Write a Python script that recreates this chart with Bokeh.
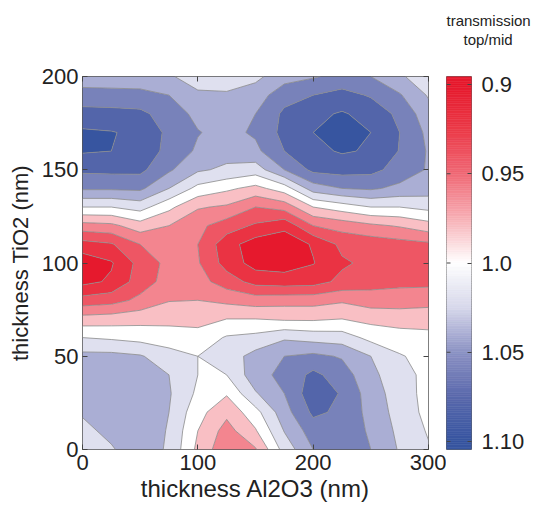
import numpy as np
from bokeh.plotting import figure
from bokeh.layouts import row
from bokeh.models import FixedTicker, Range1d, Title, CustomJSTickFormatter, LinearAxis
from bokeh.embed import file_html
from bokeh.resources import INLINE

# ---------------- data ----------------
thickness_al2o3 = [0, 25, 50, 75, 100, 125, 150, 175, 200, 225, 250, 275, 300]
thickness_tio2 = [0, 10, 20, 30, 40, 50, 60, 70, 80, 90, 100,
                  110, 120, 130, 140, 150, 160, 170, 180, 190, 200]

# transmission top/mid along TiO2 thickness (0..200 nm), one list per Al2O3 thickness
al_000 = [1.020, 1.025, 1.032, 1.040, 1.044, 1.036, 1.010, 0.978, 0.938, 0.904, 0.897,
          0.922, 0.962, 1.010, 1.053, 1.074, 1.092, 1.093, 1.078, 1.057, 1.040]
al_025 = [1.028, 1.035, 1.042, 1.045, 1.045, 1.036, 1.007, 0.980, 0.942, 0.913, 0.908,
          0.928, 0.965, 1.010, 1.053, 1.075, 1.090, 1.091, 1.077, 1.056, 1.040]
al_050 = [1.042, 1.045, 1.045, 1.045, 1.040, 1.032, 1.003, 0.983, 0.955, 0.940, 0.937,
          0.950, 0.981, 1.018, 1.054, 1.075, 1.085, 1.086, 1.075, 1.055, 1.040]
al_075 = [1.027, 1.028, 1.030, 1.032, 1.030, 1.018, 1.000, 0.984, 0.969, 0.958, 0.956,
          0.958, 0.970, 0.995, 1.030, 1.053, 1.063, 1.065, 1.060, 1.050, 1.032]
al_100 = [0.985, 0.990, 0.997, 1.006, 1.010, 1.010, 0.998, 0.983, 0.970, 0.958, 0.952,
          0.950, 0.955, 0.972, 1.004, 1.033, 1.047, 1.051, 1.045, 1.033, 1.022]
al_125 = [0.955, 0.962, 0.975, 0.992, 1.010, 1.020, 1.012, 0.990, 0.965, 0.940, 0.922,
          0.918, 0.940, 0.967, 0.994, 1.026, 1.038, 1.044, 1.040, 1.032, 1.022]
al_150 = [0.968, 0.988, 1.003, 1.028, 1.042, 1.037, 1.016, 0.990, 0.960, 0.923, 0.902,
          0.900, 0.927, 0.950, 0.984, 1.020, 1.045, 1.053, 1.050, 1.040, 1.025]
al_175 = [1.018, 1.031, 1.042, 1.050, 1.056, 1.050, 1.027, 0.987, 0.962, 0.920, 0.900,
          0.898, 0.915, 0.958, 1.000, 1.050, 1.070, 1.076, 1.074, 1.062, 1.042]
al_200 = [1.050, 1.060, 1.074, 1.083, 1.075, 1.055, 1.022, 0.987, 0.962, 0.922, 0.909,
          0.912, 0.950, 0.990, 1.040, 1.075, 1.085, 1.090, 1.085, 1.070, 1.048]
al_225 = [1.060, 1.063, 1.066, 1.068, 1.060, 1.048, 1.020, 0.990, 0.967, 0.935, 0.927,
          0.935, 0.958, 1.000, 1.050, 1.078, 1.092, 1.097, 1.092, 1.077, 1.056]
al_250 = [1.050, 1.047, 1.043, 1.040, 1.035, 1.030, 1.004, 0.984, 0.960, 0.942, 0.935,
          0.938, 0.966, 1.010, 1.053, 1.076, 1.088, 1.090, 1.083, 1.068, 1.050]
al_275 = [1.028, 1.025, 1.022, 1.020, 1.018, 1.012, 0.998, 0.982, 0.960, 0.945, 0.938,
          0.942, 0.972, 1.010, 1.045, 1.062, 1.069, 1.070, 1.065, 1.052, 1.033]
al_300 = [1.012, 1.008, 1.004, 1.003, 1.004, 1.002, 0.995, 0.983, 0.962, 0.945, 0.937,
          0.946, 0.982, 1.016, 1.040, 1.048, 1.048, 1.045, 1.038, 1.028, 1.018]

contour_levels = [0.89, 0.91, 0.93, 0.95, 0.97, 0.99, 1.01, 1.03, 1.05, 1.07, 1.09, 1.11]
colorbar_ticks = [0.9, 0.95, 1.0, 1.05, 1.1]
colorbar_labels = ["0.9", "0.95", "1.0", "1.05", "1.10"]
colorbar_title = ["transmission", "top/mid"]
x_ticks = [0, 100, 200, 300]
y_ticks = [0, 50, 100, 150, 200]

# ---------------- colour map (style) ----------------
cmap_v = [0.90, 0.925, 0.95, 0.975, 1.00, 1.025, 1.05, 1.075, 1.10]
cmap_rgb = [(230, 25, 45), (235, 58, 72), (240, 105, 118), (247, 175, 181),
            (255, 255, 255), (215, 216, 235), (140, 146, 196), (90, 105, 172), (55, 85, 160)]


def color_at(v):
    r = np.interp(v, cmap_v, [c[0] for c in cmap_rgb])
    g = np.interp(v, cmap_v, [c[1] for c in cmap_rgb])
    b = np.interp(v, cmap_v, [c[2] for c in cmap_rgb])
    return "#%02x%02x%02x" % (int(round(r)), int(round(g)), int(round(b)))


band_colors = [color_at(0.5 * (a + b)) for a, b in zip(contour_levels[:-1], contour_levels[1:])]

columns = [al_000, al_025, al_050, al_075, al_100, al_125, al_150,
           al_175, al_200, al_225, al_250, al_275, al_300]
z = np.array(columns, dtype=float).T  # shape (len(tio2), len(al2o3))

FONT = "Liberation Sans"
TXT = "#222222"
BLANK = "return ''"

# ---------------- main contour figure ----------------
p = figure(frame_width=346, frame_height=373, title=None,
           x_range=Range1d(0, 300), y_range=Range1d(0, 200),
           output_backend="svg", toolbar_location=None,
           min_border_left=82, min_border_top=76, min_border_bottom=57, min_border_right=18)

p.contour(x=thickness_al2o3, y=thickness_tio2, z=z, levels=contour_levels,
          fill_color=band_colors, line_color="#8a8a8a", line_width=0.8)

p.grid.visible = False
p.outline_line_color = "#555555"
p.outline_line_width = 1

# box ticks on the top and right edges (no labels)
p.add_layout(LinearAxis(ticker=FixedTicker(ticks=x_ticks),
                        formatter=CustomJSTickFormatter(code=BLANK)), "above")
p.add_layout(LinearAxis(ticker=FixedTicker(ticks=y_ticks),
                        formatter=CustomJSTickFormatter(code=BLANK)), "right")

for ax in p.xaxis + p.yaxis:
    ax.axis_line_color = None
    ax.major_tick_in = 5
    ax.major_tick_out = 0
    ax.minor_tick_line_color = None
    ax.major_tick_line_color = "#444444"
    ax.major_label_text_font = FONT
    ax.major_label_text_font_size = "22px"
    ax.major_label_text_color = TXT
    ax.axis_label_text_font = FONT
    ax.axis_label_text_font_style = "normal"
    ax.axis_label_text_color = TXT

xa, ya = p.below[0], p.left[0]
xa.ticker = FixedTicker(ticks=x_ticks)
ya.ticker = FixedTicker(ticks=y_ticks)
xa.axis_label = "thickness Al2O3 (nm)"
ya.axis_label = "thickness TiO2 (nm)"
xa.axis_label_text_font_size = "24px"
ya.axis_label_text_font_size = "22px"
xa.major_label_standoff = 5
ya.major_label_standoff = 4
xa.axis_label_standoff = 2
ya.axis_label_standoff = 6

# ---------------- colour bar figure (0.9 red at top, 1.10 blue at bottom) ----------------
v_top, v_bottom = 0.8955, 1.1045
cb = figure(frame_width=25, frame_height=373, title=None,
            x_range=Range1d(0, 1), y_range=Range1d(v_bottom, v_top),
            output_backend="svg", toolbar_location=None,
            x_axis_location=None, y_axis_location="right",
            min_border_left=0, min_border_top=76, min_border_bottom=57, min_border_right=66)
n_steps = 210
edges = np.linspace(v_top, v_bottom, n_steps + 1)
step_cols = [color_at(0.5 * (a + b)) for a, b in zip(edges[:-1], edges[1:])]
cb.quad(left=0, right=1, bottom=edges[:-1], top=edges[1:],
        fill_color=step_cols, line_color=step_cols, line_width=0.6)
cb.segment(x0=0, x1=0.16, y0=colorbar_ticks, y1=colorbar_ticks, line_color="#444444", line_width=1)
cb.grid.visible = False
cb.outline_line_color = "#666666"

lab_map = ",".join("'%d':'%s'" % (int(round(v * 100)), s) for v, s in zip(colorbar_ticks, colorbar_labels))
cbax = cb.yaxis[0]
cbax.ticker = FixedTicker(ticks=colorbar_ticks)
cbax.formatter = CustomJSTickFormatter(
    code="const m = {%s}; const k = String(Math.round(tick*100)); return (k in m) ? m[k] : tick.toFixed(2);" % lab_map)
cbax.axis_line_color = None
cbax.major_tick_in = 4
cbax.major_tick_out = 0
cbax.minor_tick_line_color = None
cbax.major_tick_line_color = "#444444"
cbax.major_label_standoff = 10
cbax.major_label_text_font = FONT
cbax.major_label_text_font_size = "22px"
cbax.major_label_text_color = TXT

# titles stack outward from the bar: an empty spacer line, then "top/mid", then "transmission"
cb.add_layout(Title(text=" ", align="left", standoff=10,
                    text_font=FONT, text_font_size="15px", text_font_style="normal"), "above")
cb.add_layout(Title(text=colorbar_title[1], align="left", offset=17, standoff=0,
                    text_font=FONT, text_font_size="15px", text_font_style="normal",
                    text_color=TXT), "above")
cb.add_layout(Title(text=colorbar_title[0], align="left", offset=0, standoff=0,
                    text_font=FONT, text_font_size="15px", text_font_style="normal",
                    text_color=TXT), "above")

layout = row(p, cb)
open("out.html", "w").write(file_html(layout, INLINE))
